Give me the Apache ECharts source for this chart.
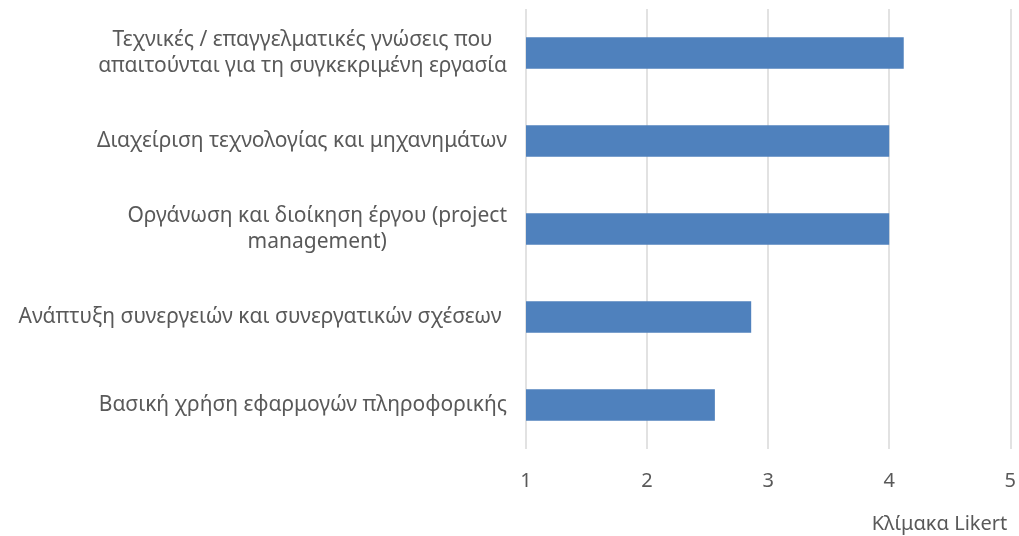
<!DOCTYPE html>
<html>
<head>
<meta charset="utf-8">
<script src="https://cdn.jsdelivr.net/npm/echarts@6/dist/echarts.min.js"></script>
<style>
  html, body { margin: 0; padding: 0; background: #fff; }
  #chart { width: 1019px; height: 536px; }
</style>
</head>
<body>
<div id="chart"></div>
<script>
// skills, top to bottom as shown
const categories = [
  "Τεχνικές / επαγγελματικές γνώσεις που\nαπαιτούνται για τη συγκεκριμένη εργασία",
  "Διαχείριση τεχνολογίας και μηχανημάτων",
  "Οργάνωση και διοίκηση έργου (project\nmanagement)",
  "Ανάπτυξη συνεργειών και συνεργατικών σχέσεων ",
  "Βασική χρήση εφαρμογών πληροφορικής"
];
const scores = [4.12, 4.0, 4.0, 2.86, 2.56];
const axisTitle = "Κλίμακα Likert";

const font = "'Noto Sans', sans-serif";
const grey = "#595959";

const chart = echarts.init(document.getElementById("chart"));
chart.setOption({
  animation: false,
  grid: { left: 526, right: 6, top: 9, bottom: 87 },
  xAxis: {
    type: "value",
    min: 1,
    max: 5,
    interval: 1,
    axisLine: { show: false },
    axisTick: { show: false },
    splitLine: { lineStyle: { color: "#d9d9d9", width: 1.5 } },
    axisLabel: { color: grey, fontSize: 20, fontFamily: font, margin: 22 },
    name: axisTitle,
    nameLocation: "end",
    nameGap: -3,
    nameTextStyle: {
      color: grey, fontSize: 20, fontFamily: font,
      align: "right", verticalAlign: "top", padding: [65, 0, 0, 0]
    }
  },
  yAxis: {
    type: "category",
    data: categories,
    inverse: true,
    axisLine: { show: false },
    axisTick: { show: false },
    axisLabel: {
      margin: 19,
      formatter: v => "{c|" + v + "}",
      rich: {
        c: { color: grey, fontSize: 21, fontFamily: font, lineHeight: 26, align: "center" }
      }
    }
  },
  series: [{
    type: "bar",
    data: scores,
    barWidth: "36%",
    itemStyle: { color: "#4f81bd" }
  }]
});
</script>
</body>
</html>
